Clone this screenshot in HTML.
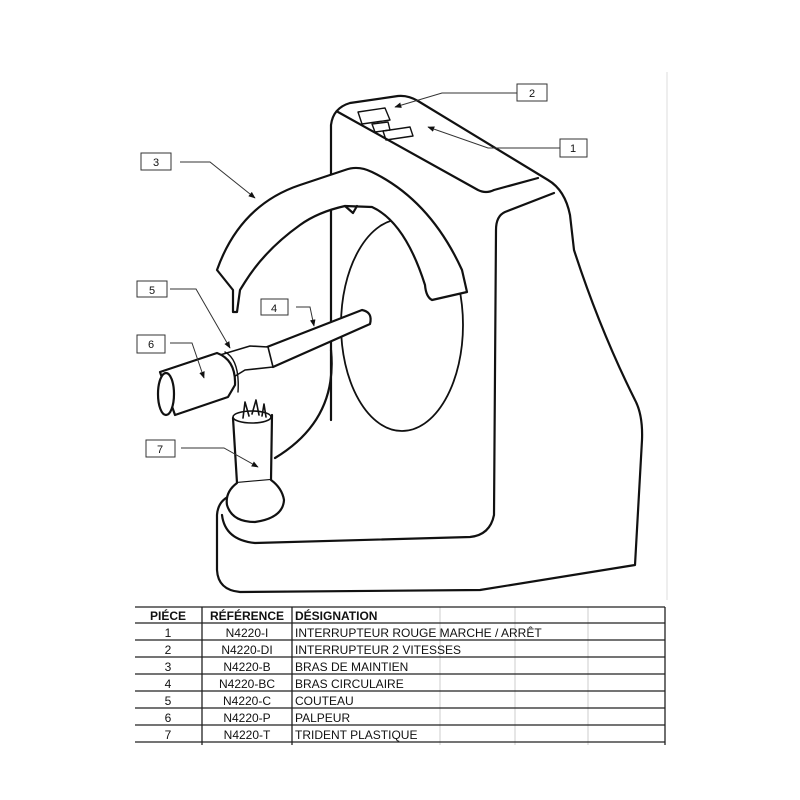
<!DOCTYPE html>
<html><head><meta charset="utf-8"><style>
html,body{margin:0;padding:0;background:#fff;width:800px;height:800px;overflow:hidden}
svg{display:block}
text{font-family:"Liberation Sans",Arial,sans-serif}
</style></head><body>
<svg width="800" height="800" viewBox="0 0 800 800" xmlns="http://www.w3.org/2000/svg">
<defs><marker id="ar" viewBox="0 0 10 10" refX="9" refY="5" markerWidth="7" markerHeight="7" orient="auto"><path d="M0,1 L10,5 L0,9 z" fill="#111"/></marker></defs>
<g stroke="#ddd" stroke-width="1">
<line x1="667" y1="72" x2="667" y2="600"/>
</g>
<g fill="none" stroke="#111" stroke-width="2.2" stroke-linejoin="round" stroke-linecap="round">
<path d="M331,420 L331,125 Q333,108 350,103 L398,96 Q408,95 418,101 L548,180 Q565,190 570,215 L574,250 Q600,330 635,400 Q643,415 642,440 L635,565 L480,590 L240,592 Q218,590 217,570 L217,515 Q218,500 232,495"/>
<path d="M338,112 L478,190 Q486,194 494,190 L538,178"/>
<path d="M554,193 L505,212 Q496,216 496,230 L494,515 Q490,535 470,537 L255,543 Q225,540 222,515"/>
<path d="M331,350 Q338,420 275,458"/>
<path d="M358,112 L385,108 L390,120 L362,124 z" stroke-width="1.4"/>
<path d="M372,124 L388,122 L390,130 L375,132 z" stroke-width="1.4"/>
<path d="M383,131 L410,127 L413,136 L386,140 z" stroke-width="1.4"/>
<ellipse cx="402" cy="325" rx="61" ry="106" stroke-width="1.8"/>
<path d="M217,270 Q240,205 300,185 Q330,175 345,170 Q358,165 372,172 Q430,200 462,270 L467,292 L432,300 Q426,297 425,285 Q405,222 372,207 L345,206 Q318,212 300,225 Q265,250 245,282 L240,290 L237,312 L233,312 L233,290 Z" fill="#fff"/>
<path d="M345,206 L353,213 L357,206"/>
<path d="M267,347 L362,310 Q373,312 370,324 L273,367" fill="#fff"/>
<path d="M220,355 L250,346 L268,347 L273,367 L245,370 L232,378" fill="#fff" stroke-width="1.6"/>
<path d="M160,372 L217,353 Q236,360 235,385 L228,397 L175,415 Z" fill="#fff"/>
<ellipse cx="166" cy="394" rx="8" ry="21" fill="#fff"/>
<path d="M225,352 Q240,360 238,392" stroke-width="1.4"/>
<path d="M233,418 L237,483 L271,480 L272,415" fill="#fff"/>
<ellipse cx="252" cy="417" rx="19" ry="6" fill="#fff" stroke-width="1.6"/>
<path d="M243,418 L245,402 L249,416 M252,414 L256,400 L259,415 M262,416 L264,404 L266,417" stroke-width="1.6"/>
<path d="M237,483 Q225,492 227,505 Q232,522 255,522 Q283,518 284,500 Q282,488 271,480" fill="#fff"/>
</g>
<g stroke="#333" stroke-width="1" fill="none">
<path d="M517,93 L442,93 L395,107" marker-end="url(#ar)"/>
<path d="M560,148 L488,148 L428,127" marker-end="url(#ar)"/>
<path d="M180,162 L210,162 L255,198" marker-end="url(#ar)"/>
<path d="M170,289 L196,289 L230,348" marker-end="url(#ar)"/>
<path d="M296,307 L310,307 L314,326" marker-end="url(#ar)"/>
<path d="M170,343 L192,343 L204,378" marker-end="url(#ar)"/>
<path d="M181,448 L224,448 L258,467" marker-end="url(#ar)"/>
</g>
<g fill="#fff" stroke="#333" stroke-width="1">
<rect x="517" y="84" width="30" height="17"/>
<rect x="560" y="139" width="27" height="18"/>
<rect x="141" y="153" width="30" height="17"/>
<rect x="137" y="281" width="30" height="16"/>
<rect x="261" y="299" width="27" height="16"/>
<rect x="137" y="335" width="28" height="18"/>
<rect x="146" y="440" width="29" height="17"/>
</g>
<g font-size="11" fill="#111" text-anchor="middle">
<text x="532" y="97">2</text><text x="573" y="152">1</text><text x="156" y="166">3</text>
<text x="152" y="294">5</text><text x="274" y="312">4</text><text x="151" y="348">6</text><text x="160" y="453">7</text>
</g>
<g stroke="#ccc" stroke-width="1">
<line x1="440" y1="607" x2="440" y2="745"/><line x1="515" y1="607" x2="515" y2="745"/><line x1="588" y1="607" x2="588" y2="745"/>
</g>
<g stroke="#222" stroke-width="1.3">
<line x1="135" y1="607" x2="665" y2="607"/>
<line x1="135" y1="623" x2="665" y2="623"/>
<line x1="135" y1="640" x2="665" y2="640"/>
<line x1="135" y1="657" x2="665" y2="657"/>
<line x1="135" y1="674" x2="665" y2="674"/>
<line x1="135" y1="691" x2="665" y2="691"/>
<line x1="135" y1="708" x2="665" y2="708"/>
<line x1="135" y1="725" x2="665" y2="725"/>
<line x1="135" y1="742" x2="665" y2="742"/>
<line x1="202" y1="607" x2="202" y2="745"/>
<line x1="292" y1="607" x2="292" y2="745"/>
<line x1="665" y1="607" x2="665" y2="745"/>
</g>
<g font-size="12" fill="#111">
<g font-weight="bold"><text x="168" y="620" text-anchor="middle">PIÉCE</text><text x="247" y="620" text-anchor="middle">RÉFÉRENCE</text><text x="295" y="620">DÉSIGNATION</text></g>
<g text-anchor="middle">
<text x="168" y="637">1</text><text x="168" y="654">2</text><text x="168" y="671">3</text><text x="168" y="688">4</text><text x="168" y="705">5</text><text x="168" y="722">6</text><text x="168" y="739">7</text>
<text x="247" y="637">N4220-I</text><text x="247" y="654">N4220-DI</text><text x="247" y="671">N4220-B</text><text x="247" y="688">N4220-BC</text><text x="247" y="705">N4220-C</text><text x="247" y="722">N4220-P</text><text x="247" y="739">N4220-T</text>
</g>
<text x="295" y="637">INTERRUPTEUR ROUGE MARCHE / ARRÊT</text>
<text x="295" y="654">INTERRUPTEUR 2 VITESSES</text>
<text x="295" y="671">BRAS DE MAINTIEN</text>
<text x="295" y="688">BRAS CIRCULAIRE</text>
<text x="295" y="705">COUTEAU</text>
<text x="295" y="722">PALPEUR</text>
<text x="295" y="739">TRIDENT PLASTIQUE</text>
</g>
</svg>
</body></html>
